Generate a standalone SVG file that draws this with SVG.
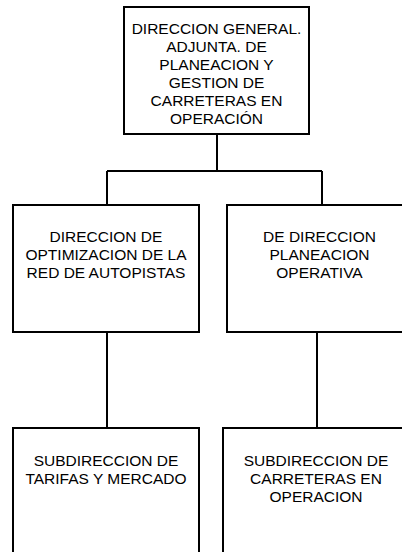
<svg xmlns="http://www.w3.org/2000/svg" width="402" height="552" viewBox="0 0 402 552">
<style>
.box{fill:#fff;stroke:#000;stroke-width:2}
.t{font-family:"Liberation Sans",Arial,sans-serif;font-size:15.5px;fill:#000;text-anchor:middle}
.c{fill:none;stroke:#000;stroke-width:2}
</style>
<rect width="402" height="552" fill="#fff"/>
<g id="connectors">
<path class="c" d="M217 134V171M107 171H322M107 171V205M322 171V205"/>
<path class="c" d="M107 332V428M317 332V428"/>
</g>
<g id="n1">
<rect class="box" x="124" y="7" width="185" height="127"/>
<text class="t" x="216.5" y="33.5">DIRECCION GENERAL.</text>
<text class="t" x="216.5" y="51.5">ADJUNTA. DE</text>
<text class="t" x="216.5" y="69.5">PLANEACION Y</text>
<text class="t" x="216.5" y="87.5">GESTION DE</text>
<text class="t" x="216.5" y="105.5">CARRETERAS EN</text>
<text class="t" x="216.5" y="123.5">OPERACIÓN</text>
</g>
<g id="n2">
<rect class="box" x="13" y="205" width="186" height="127"/>
<text class="t" x="106" y="242">DIRECCION DE</text>
<text class="t" x="106" y="260">OPTIMIZACION DE LA</text>
<text class="t" x="106" y="278">RED DE AUTOPISTAS</text>
</g>
<g id="n3">
<rect class="box" x="227" y="205" width="186" height="127"/>
<text class="t" x="319.5" y="242">DE DIRECCION</text>
<text class="t" x="319.5" y="260">PLANEACION</text>
<text class="t" x="319.5" y="278">OPERATIVA</text>
</g>
<g id="n4">
<rect class="box" x="13" y="428" width="186" height="140"/>
<text class="t" x="106" y="466">SUBDIRECCION DE</text>
<text class="t" x="106" y="484">TARIFAS Y MERCADO</text>
</g>
<g id="n5">
<rect class="box" x="223" y="428" width="186" height="140"/>
<text class="t" x="316" y="466">SUBDIRECCION DE</text>
<text class="t" x="316" y="484">CARRETERAS EN</text>
<text class="t" x="316" y="502">OPERACION</text>
</g>
</svg>
